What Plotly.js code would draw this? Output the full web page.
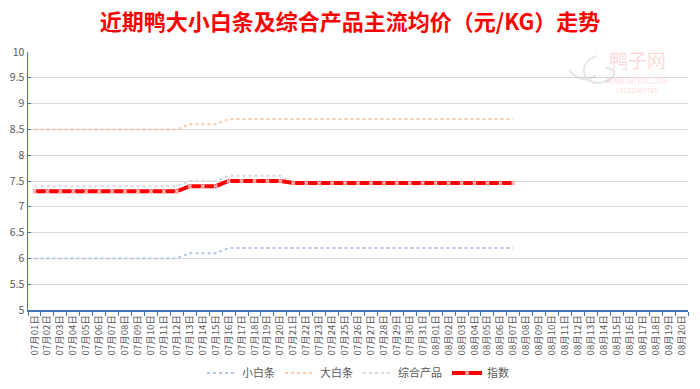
<!DOCTYPE html>
<html>
<head>
<meta charset="utf-8">
<script src="https://cdn.plot.ly/plotly-3.0.1.min.js"></script>
<style>html,body{margin:0;padding:0;background:#fff;}#chart{width:700px;height:389px;}</style>
</head>
<body>
<div id="chart"></div>
<script>
var dates = ["07月01日","07月02日","07月03日","07月04日","07月05日","07月06日","07月07日","07月08日","07月09日","07月10日",
"07月11日","07月12日","07月13日","07月14日","07月15日","07月16日","07月17日","07月18日","07月19日","07月20日",
"07月21日","07月22日","07月23日","07月24日","07月25日","07月26日","07月27日","07月28日","07月29日","07月30日","07月31日",
"08月01日","08月02日","08月03日","08月04日","08月05日","08月06日","08月07日","08月08日","08月09日","08月10日",
"08月11日","08月12日","08月13日","08月14日","08月15日","08月16日","08月17日","08月18日","08月19日","08月20日"];

var xiaoBaiTiao = [6,6,6,6,6,6,6,6,6,6,6,6, 6.1,6.1,6.1,
  6.2,6.2,6.2,6.2,6.2,6.2,6.2,6.2,6.2,6.2,6.2,6.2,6.2,6.2,6.2,6.2,6.2,6.2,6.2,6.2,6.2,6.2,6.2];
var daBaiTiao = [8.5,8.5,8.5,8.5,8.5,8.5,8.5,8.5,8.5,8.5,8.5,8.5, 8.6,8.6,8.6,
  8.7,8.7,8.7,8.7,8.7,8.7,8.7,8.7,8.7,8.7,8.7,8.7,8.7,8.7,8.7,8.7,8.7,8.7,8.7,8.7,8.7,8.7,8.7];
var zongHe = [7.4,7.4,7.4,7.4,7.4,7.4,7.4,7.4,7.4,7.4,7.4,7.4, 7.5,7.5,7.5, 7.6,7.6,7.6,7.6,7.6,
  7.46,7.46,7.46,7.46,7.46,7.46,7.46,7.46,7.46,7.46,7.46,7.46,7.46,7.46,7.46,7.46,7.46,7.46];
var zhiShu = [7.3,7.3,7.3,7.3,7.3,7.3,7.3,7.3,7.3,7.3,7.3,7.3, 7.4,7.4,7.4, 7.5,7.5,7.5,7.5,7.5,
  7.46,7.46,7.46,7.46,7.46,7.46,7.46,7.46,7.46,7.46,7.46,7.46,7.46,7.46,7.46,7.46,7.46,7.46];

var yTicks = [5,5.5,6,6.5,7,7.5,8,8.5,9,9.5,10];
var yTickText = ["5","5.5","6","6.5","7","7.5","8","8.5","9","9.5","10"];

var FONT = "'Noto Sans CJK SC', 'Noto Sans', sans-serif";

function xs(arr){ return dates.slice(0, arr.length); }

var traces = [
  {name:"小白条", x:xs(xiaoBaiTiao), y:xiaoBaiTiao, type:"scatter", mode:"lines",
   line:{color:"#b4c7e7", width:2, dash:"dot"}},
  {name:"大白条", x:xs(daBaiTiao), y:daBaiTiao, type:"scatter", mode:"lines",
   line:{color:"#f8cbad", width:2, dash:"dot"}},
  {name:"综合产品", x:xs(zongHe), y:zongHe, type:"scatter", mode:"lines",
   line:{color:"#d9d9d9", width:2, dash:"dot"}},
  {name:"指数", x:xs(zhiShu), y:zhiShu, type:"scatter", mode:"lines+markers",
   line:{color:"#ff0000", width:4},
   marker:{symbol:"x", size:4, color:"#ffb8b8", line:{width:0}}}
];

var layout = {
  width:700, height:389,
  paper_bgcolor:"#ffffff", plot_bgcolor:"#ffffff",
  margin:{l:28, r:12, t:52, b:79, autoexpand:false},
  font:{family:FONT, color:"#595959", size:11},
  title:{text:"<b>近期鸭大小白条及综合产品主流均价（元/KG）走势</b>", x:0.5, xanchor:"center", y:0.943, yanchor:"middle",
         font:{family:FONT, size:22, color:"#ff0000"}},
  showlegend:true,
  legend:{orientation:"h", x:0.5, xanchor:"center", yref:"container", y:0.041, yanchor:"middle",
          font:{family:FONT, size:11, color:"#595959"}, itemwidth:30, tracegroupgap:0},
  xaxis:{type:"category", categoryorder:"array", categoryarray:dates, range:[-0.5, dates.length-0.5],
         tickmode:"array", tickvals:dates, ticktext:dates, tickangle:-90, automargin:false,
         tickfont:{family:FONT, size:9.5, color:"#595959"},
         showline:true, linecolor:"#4472c4", linewidth:1.5,
         ticks:"outside", tickson:"boundaries", ticklen:4, tickcolor:"#4472c4",
         showgrid:false, zeroline:false, fixedrange:true},
  yaxis:{range:[5,10], tickmode:"array", tickvals:yTicks, ticktext:yTickText, automargin:false,
         tickfont:{family:FONT, size:10.5, color:"#595959"},
         showline:true, linecolor:"#4472c4", linewidth:1.5,
         ticks:"inside", ticklen:3, tickcolor:"#4472c4",
         showgrid:true, gridcolor:"#d9d9d9", gridwidth:1, zeroline:false, fixedrange:true},
  annotations:[
    {text:"鸭子网", xref:"paper", yref:"paper", x:0.923, y:0.969, xanchor:"center", yanchor:"middle",
     showarrow:false, font:{family:FONT, size:19, color:"rgba(255,120,120,0.28)"}},
    {text:"WWW.INTEDC.COM<br>15131069765", xref:"paper", yref:"paper", x:0.923, y:0.87, xanchor:"center", yanchor:"middle",
     showarrow:false, align:"center", font:{family:FONT, size:7, color:"rgba(255,120,120,0.3)"}}
  ],
  shapes:[
    {type:"path", xref:"paper", yref:"paper",
     path:"M 0.862 0.985 Q 0.835 0.96 0.845 0.9 Q 0.86 0.86 0.885 0.9 Q 0.895 0.93 0.875 0.94 M 0.82 0.93 Q 0.84 0.87 0.86 0.91",
     line:{color:"rgba(180,180,180,0.35)", width:2}}
  ]
};

Plotly.newPlot("chart", traces, layout, {displayModeBar:false, staticPlot:true});
</script>
</body>
</html>
